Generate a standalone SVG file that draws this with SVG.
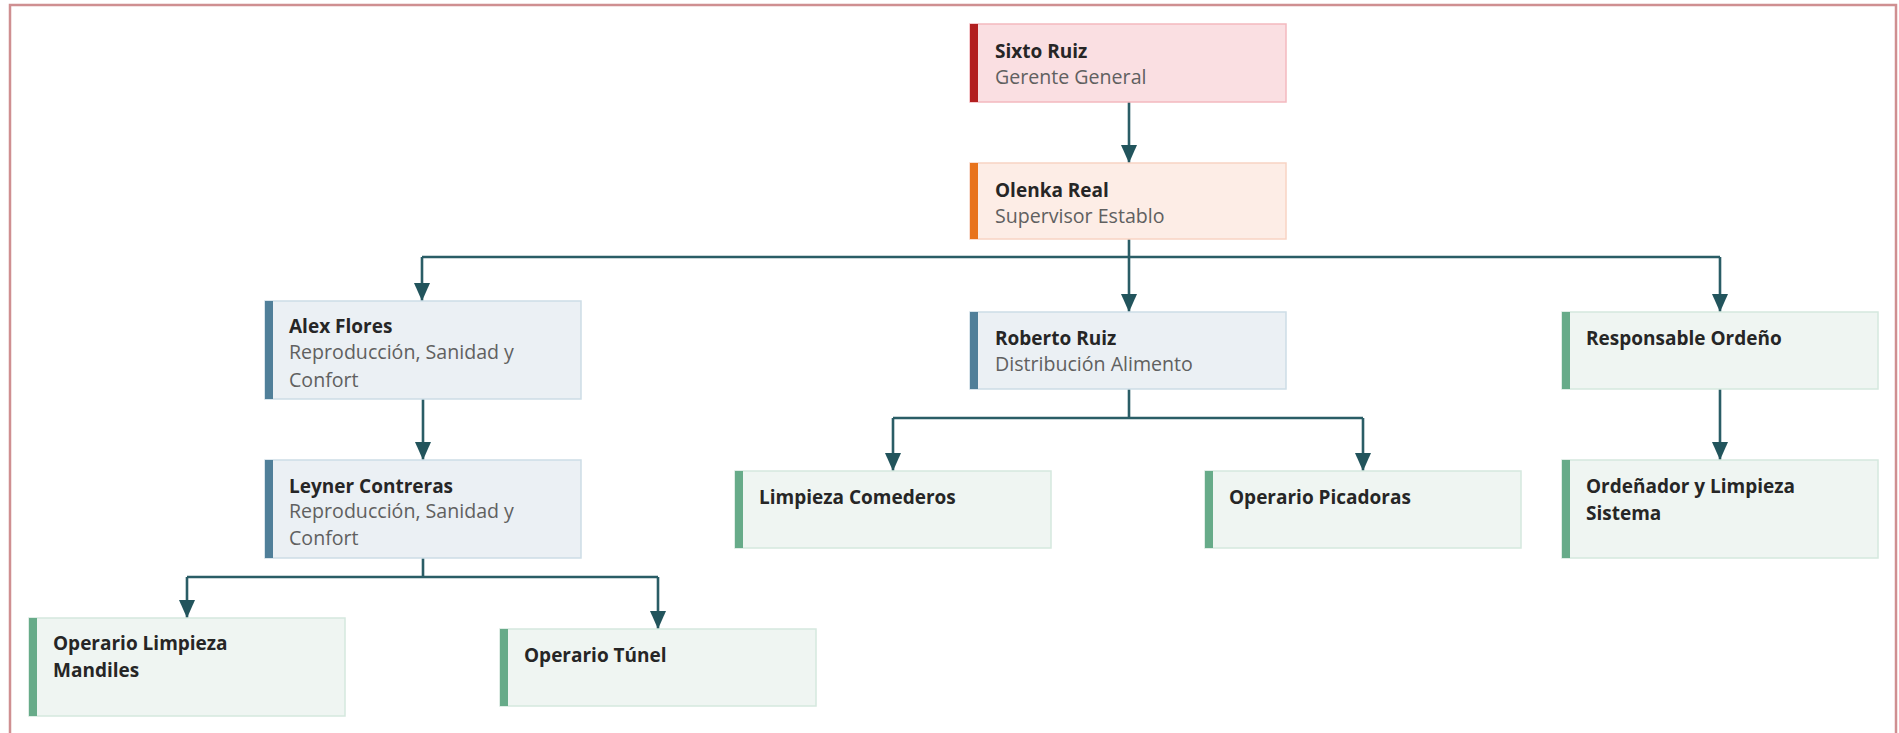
<svg xmlns="http://www.w3.org/2000/svg" width="1899" height="733" viewBox="0 0 1899 733">
<defs>
<marker id="arr" viewBox="0 0 18 16" refX="18" refY="8" markerWidth="18" markerHeight="16" markerUnits="userSpaceOnUse" orient="auto">
<path d="M0,0 L18,8 L0,16 Z" fill="#22545c"/>
</marker>
<style>
.t{font-family:"Open Sans","DejaVu Sans",sans-serif;font-size:19px;font-weight:700;fill:#262626}
.s{font-family:"Open Sans","DejaVu Sans",sans-serif;font-size:19.6px;font-weight:400;fill:#606060}
.red rect.b{fill:#fadfe2;stroke:#f3b9bf;stroke-width:1.5}
.red rect.a{fill:#b21f1f}
.org rect.b{fill:#fdede6;stroke:#f8d3c3;stroke-width:1.5}
.org rect.a{fill:#e8731c}
.blu rect.b{fill:#ebf0f4;stroke:#cddde6;stroke-width:1.5}
.blu rect.a{fill:#507f99}
.grn rect.b{fill:#eff5f2;stroke:#d5e8de;stroke-width:1.5}
.grn rect.a{fill:#67ab89}
.c{fill:none;stroke:#2a5d66;stroke-width:2.6}
</style>
</defs>
<rect width="1899" height="733" fill="#ffffff"/>
<rect x="10" y="5" width="1886" height="745" fill="none" stroke="#cf8f91" stroke-width="2.5"/>

<g id="connectors">
<path class="c" d="M1129,102 V163" marker-end="url(#arr)"/>
<path class="c" d="M1129,239 V312" marker-end="url(#arr)"/>
<path class="c" d="M422,257 H1720"/>
<path class="c" d="M422,257 V301" marker-end="url(#arr)"/>
<path class="c" d="M1720,257 V312" marker-end="url(#arr)"/>
<path class="c" d="M423,399 V460" marker-end="url(#arr)"/>
<path class="c" d="M1720,389 V460" marker-end="url(#arr)"/>
<path class="c" d="M1129,389 V418"/>
<path class="c" d="M893,418 H1363"/>
<path class="c" d="M893,418 V471" marker-end="url(#arr)"/>
<path class="c" d="M1363,418 V471" marker-end="url(#arr)"/>
<path class="c" d="M423,558 V577"/>
<path class="c" d="M187,577 H658"/>
<path class="c" d="M187,577 V618" marker-end="url(#arr)"/>
<path class="c" d="M658,577 V629" marker-end="url(#arr)"/>
</g>

<g id="sixto" class="red">
<rect class="b" x="970" y="24" width="316" height="78"/>
<rect class="a" x="970" y="24" width="8" height="78"/>
<text class="t" x="995" y="58">Sixto Ruiz</text>
<text class="s" x="995" y="84">Gerente General</text>
</g>

<g id="olenka" class="org">
<rect class="b" x="970" y="163" width="316" height="76"/>
<rect class="a" x="970" y="163" width="8" height="76"/>
<text class="t" x="995" y="197">Olenka Real</text>
<text class="s" x="995" y="223">Supervisor Establo</text>
</g>

<g id="alex" class="blu">
<rect class="b" x="265" y="301" width="316" height="98"/>
<rect class="a" x="265" y="301" width="8" height="98"/>
<text class="t" x="289" y="333">Alex Flores</text>
<text class="s" x="289" y="359">Reproducción, Sanidad y</text>
<text class="s" x="289" y="387">Confort</text>
</g>

<g id="leyner" class="blu">
<rect class="b" x="265" y="460" width="316" height="98"/>
<rect class="a" x="265" y="460" width="8" height="98"/>
<text class="t" x="289" y="493">Leyner Contreras</text>
<text class="s" x="289" y="518">Reproducción, Sanidad y</text>
<text class="s" x="289" y="545">Confort</text>
</g>

<g id="roberto" class="blu">
<rect class="b" x="970" y="312" width="316" height="77"/>
<rect class="a" x="970" y="312" width="8" height="77"/>
<text class="t" x="995" y="345">Roberto Ruiz</text>
<text class="s" x="995" y="371">Distribución Alimento</text>
</g>

<g id="responsable" class="grn">
<rect class="b" x="1562" y="312" width="316" height="77"/>
<rect class="a" x="1562" y="312" width="8" height="77"/>
<text class="t" x="1586" y="345">Responsable Ordeño</text>
</g>

<g id="ordenador" class="grn">
<rect class="b" x="1562" y="460" width="316" height="98"/>
<rect class="a" x="1562" y="460" width="8" height="98"/>
<text class="t" x="1586" y="493">Ordeñador y Limpieza</text>
<text class="t" x="1586" y="520">Sistema</text>
</g>

<g id="comederos" class="grn">
<rect class="b" x="735" y="471" width="316" height="77"/>
<rect class="a" x="735" y="471" width="8" height="77"/>
<text class="t" x="759" y="504">Limpieza Comederos</text>
</g>

<g id="picadoras" class="grn">
<rect class="b" x="1205" y="471" width="316" height="77"/>
<rect class="a" x="1205" y="471" width="8" height="77"/>
<text class="t" x="1229" y="504">Operario Picadoras</text>
</g>

<g id="mandiles" class="grn">
<rect class="b" x="29" y="618" width="316" height="98"/>
<rect class="a" x="29" y="618" width="8" height="98"/>
<text class="t" x="53" y="650">Operario Limpieza</text>
<text class="t" x="53" y="677">Mandiles</text>
</g>

<g id="tunel" class="grn">
<rect class="b" x="500" y="629" width="316" height="77"/>
<rect class="a" x="500" y="629" width="8" height="77"/>
<text class="t" x="524" y="662">Operario Túnel</text>
</g>
</svg>
